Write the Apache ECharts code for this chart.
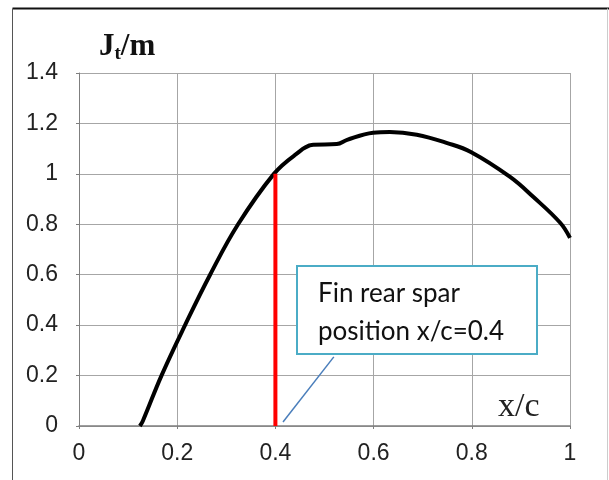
<!DOCTYPE html>
<html>
  <head>
    <meta charset="utf-8" />
    <title>Jt/m vs x/c</title>
    <script src="https://cdn.jsdelivr.net/npm/echarts/dist/echarts.min.js"></script>
    <style>
      html, body { margin: 0; padding: 0; background: #fff; }
    </style>
  </head>
  <body>
    <div id="main" style="width: 609px; height: 480px;"></div>

    <script type="text/javascript">
      // curve
      const curveX = [0.124, 0.13, 0.168, 0.216, 0.267, 0.324, 0.397, 0.44, 0.477, 0.525, 0.546, 0.599, 0.633, 0.688, 0.75, 0.798, 0.878, 0.925, 0.98, 1.0];
      const curveY = [0, 0.02, 0.2, 0.4, 0.6, 0.8, 1.0, 1.075, 1.115, 1.118, 1.135, 1.163, 1.166, 1.155, 1.122, 1.087, 0.988, 0.909, 0.806, 0.746];

      // fin rear spar at x/c = 0.4
      const sparX = [0.4, 0.4];
      const sparY = [0, 1.0];

      // leader line of the note box
      const leaderX = [0.4155, 0.519];
      const leaderY = [0.016, 0.274];

      const xTicks = [0, 0.2, 0.4, 0.6, 0.8, 1];
      const yTicks = [0, 0.2, 0.4, 0.6, 0.8, 1, 1.2, 1.4];

      const noteLines = ['Fin rear spar', 'position x/c=0.4'];

      function pairs(xs, ys) {
        return xs.map((x, i) => [x, ys[i]]);
      }

      var myChart = echarts.init(document.getElementById('main'));

      const gridColor = '#a6a6a6';

      let option = {
        animation: false,
        backgroundColor: '#fff',
        grid: { left: 79, right: 39, top: 73, bottom: 54 },
        xAxis: {
          type: 'value',
          min: xTicks[0],
          max: xTicks[xTicks.length - 1],
          interval: 0.2,
          axisLine: { onZero: false, lineStyle: { color: '#7f7f7f', width: 1.5 } },
          axisTick: { show: true, length: 3, lineStyle: { color: '#7f7f7f' } },
          axisLabel: { color: '#222', fontFamily: 'Liberation Sans', fontSize: 23, margin: 16 },
          splitLine: { show: true, lineStyle: { color: gridColor, width: 1 } }
        },
        yAxis: {
          type: 'value',
          min: yTicks[0],
          max: yTicks[yTicks.length - 1],
          interval: 0.2,
          axisLine: { show: true, lineStyle: { color: '#7f7f7f', width: 1 } },
          axisTick: { show: true, length: 3, lineStyle: { color: '#7f7f7f' } },
          axisLabel: { color: '#222', fontFamily: 'Liberation Sans', fontSize: 23, margin: 21 },
          splitLine: { show: true, lineStyle: { color: gridColor, width: 1 } }
        },
        series: [
          {
            type: 'line',
            data: pairs(curveX, curveY),
            smooth: 0.4,
            symbol: 'none',
            lineStyle: { color: '#000', width: 4 },
            z: 3
          },
          {
            type: 'line',
            data: pairs(sparX, sparY),
            symbol: 'none',
            lineStyle: { color: '#ff0000', width: 4 },
            z: 4
          },
          {
            type: 'line',
            data: pairs(leaderX, leaderY),
            symbol: 'none',
            lineStyle: { color: '#4a7ebb', width: 1.5 },
            z: 4
          }
        ],
        graphic: [
          // outer frame
          { type: 'line', shape: { x1: 12.5, y1: 8.5, x2: 609, y2: 8.5 }, style: { stroke: '#111', lineWidth: 2 } },
          { type: 'line', shape: { x1: 12.5, y1: 8.5, x2: 12.5, y2: 480 }, style: { stroke: '#555', lineWidth: 1 } },
          { type: 'line', shape: { x1: 607.5, y1: 8.5, x2: 607.5, y2: 480 }, style: { stroke: '#ccc', lineWidth: 1 } },
          // axis titles
          {
            type: 'text',
            left: 99,
            top: 31,
            style: {
              text: '{a|J}{b|t}{a|/m}',
              rich: {
                a: { fontFamily: 'Liberation Serif', fontWeight: 'bold', fontSize: 31, fill: '#111' },
                b: { fontFamily: 'Liberation Serif', fontWeight: 'bold', fontSize: 19, fill: '#111', padding: [15, 0, 0, 0] }
              }
            }
          },
          {
            type: 'text',
            left: 498,
            top: 390,
            style: { text: 'x/c', fontFamily: 'Liberation Serif', fontSize: 34, fill: '#222' }
          },
          // note box
          {
            type: 'rect',
            shape: { x: 297, y: 266, width: 240, height: 88 },
            style: { fill: '#fff', stroke: '#4bacc6', lineWidth: 2 },
            z: 10
          },
          {
            type: 'text',
            left: 318,
            top: 275,
            z: 11,
            style: {
              text: noteLines.join('\n'),
              fontFamily: 'Lato',
              fontSize: 26,
              lineHeight: 38,
              fill: '#111'
            }
          }
        ]
      };

      myChart.setOption(option);
    </script>
  </body>
</html>
